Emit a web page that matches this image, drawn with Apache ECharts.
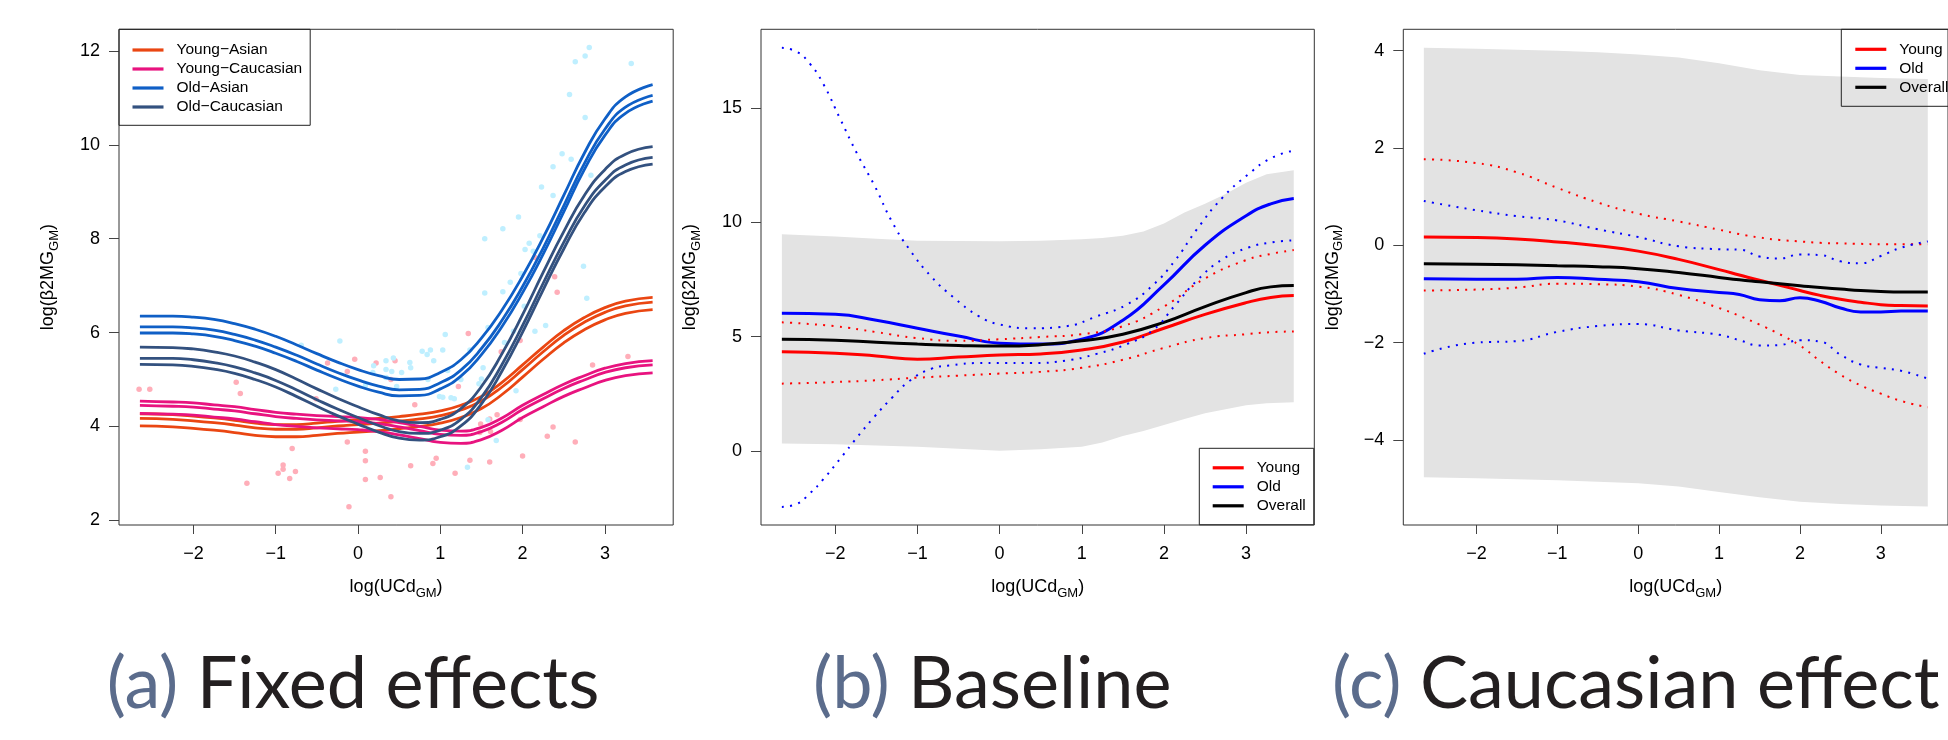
<!DOCTYPE html>
<html><head><meta charset="utf-8">
<script src="https://cdn.jsdelivr.net/npm/echarts@6/dist/echarts.min.js"></script>
<style>html,body{margin:0;padding:0;background:#fff;}#c{width:1948px;height:740px;}</style>
</head><body><div id="c"></div>
<script>
// ---------- tick labels ----------
const xTicks = [-2, -1, 0, 1, 2, 3];
const yTicksA = [2, 4, 6, 8, 10, 12];
const yTicksB = [0, 5, 10, 15];
const yTicksC = [-4, -2, 0, 2, 4];

// ---------- panel (a): fixed effects ----------
const xA = [-2.65,-2.25,-2,-1.75,-1.5,-1.25,-1,-0.75,-0.5,-0.25,0,0.25,0.5,0.75,1,1.25,1.5,1.75,2,2.25,2.5,2.75,3,3.25,3.58];
const youngAsian1 = [4.27,4.25,4.22,4.18,4.13,4.07,4.04,4.04,4.07,4.11,4.14,4.17,4.21,4.26,4.33,4.45,4.64,4.94,5.31,5.69,6.04,6.32,6.53,6.67,6.75];
const youngAsian2 = [4.17,4.15,4.12,4.08,4.03,3.97,3.94,3.94,3.97,4.01,4.04,4.07,4.11,4.16,4.23,4.35,4.54,4.84,5.21,5.59,5.94,6.22,6.43,6.57,6.65];
const youngAsian3 = [4.01,3.99,3.96,3.92,3.87,3.81,3.78,3.78,3.81,3.85,3.88,3.91,3.95,4.00,4.07,4.19,4.38,4.68,5.05,5.43,5.78,6.06,6.27,6.41,6.49];
const youngCauc1 = [4.54,4.52,4.50,4.46,4.42,4.36,4.30,4.26,4.23,4.21,4.19,4.15,4.08,4.00,3.92,3.90,3.98,4.18,4.45,4.68,4.90,5.08,5.24,5.34,5.40];
const youngCauc2 = [4.45,4.43,4.41,4.37,4.33,4.27,4.21,4.17,4.14,4.12,4.10,4.06,3.99,3.91,3.83,3.81,3.89,4.09,4.36,4.59,4.81,4.99,5.15,5.25,5.31];
const youngCauc3 = [4.28,4.26,4.24,4.20,4.16,4.10,4.04,4.00,3.97,3.95,3.93,3.89,3.82,3.74,3.66,3.64,3.72,3.92,4.19,4.42,4.64,4.82,4.98,5.08,5.14];
const oldAsian1 = [6.35,6.35,6.33,6.28,6.19,6.07,5.92,5.74,5.55,5.37,5.21,5.08,5.00,5.01,5.15,5.42,5.88,6.48,7.20,8.02,8.92,9.82,10.55,11.02,11.28];
const oldAsian2 = [6.12,6.12,6.10,6.05,5.96,5.84,5.69,5.52,5.33,5.15,4.99,4.86,4.78,4.79,4.93,5.20,5.66,6.26,6.98,7.80,8.70,9.60,10.33,10.80,11.05];
const oldAsian3 = [5.99,5.99,5.97,5.92,5.83,5.71,5.56,5.39,5.20,5.02,4.86,4.73,4.65,4.66,4.80,5.07,5.53,6.13,6.85,7.67,8.57,9.47,10.20,10.67,10.93];
const oldCauc1 = [5.69,5.68,5.65,5.59,5.50,5.37,5.21,5.01,4.80,4.60,4.42,4.25,4.12,4.08,4.15,4.38,4.85,5.55,6.38,7.28,8.15,8.92,9.47,9.80,9.96];
const oldCauc2 = [5.45,5.45,5.42,5.36,5.27,5.14,4.98,4.78,4.57,4.37,4.19,4.02,3.89,3.85,3.92,4.15,4.62,5.32,6.15,7.05,7.92,8.69,9.24,9.57,9.73];
const oldCauc3 = [5.32,5.31,5.28,5.22,5.13,5.00,4.84,4.64,4.43,4.23,4.05,3.88,3.75,3.71,3.78,4.01,4.48,5.18,6.01,6.91,7.78,8.55,9.10,9.43,9.59];

const youngPoints = [[-2.66,4.79],[-2.53,4.79],[-1.48,4.94],[-1.43,4.70],[-1.35,2.79],[-0.97,3.0],[-0.91,3.18],[-0.91,3.09],[-0.83,2.89],[-0.80,3.53],[-0.76,3.04],[-0.51,4.59],[-0.37,5.35],[-0.13,5.17],[-0.13,3.67],[-0.11,2.29],[-0.04,5.43],[0.09,3.47],[0.09,3.27],[0.09,2.87],[0.22,5.35],[0.27,2.91],[0.40,2.50],[0.40,5.0],[0.45,5.40],[0.64,3.16],[0.69,4.46],[0.91,3.21],[0.95,3.32],[0.91,3.71],[1.18,3.0],[1.22,4.85],[1.34,5.98],[1.36,3.28],[1.48,3.87],[1.49,4.05],[1.60,4.16],[1.60,3.24],[1.61,3.89],[1.69,4.25],[1.74,5.59],[1.97,5.83],[2.0,3.37],[1.97,4.15],[2.15,7.6],[2.30,3.79],[2.37,3.99],[2.39,7.19],[2.42,6.86],[2.64,3.67],[2.85,5.31],[3.28,5.49]];
const oldPoints = [[-0.69,5.73],[-0.22,5.82],[-0.27,4.79],[0.09,4.87],[0.18,5.15],[0.19,5.29],[0.34,5.40],[0.34,5.21],[0.34,5.04],[0.41,5.17],[0.43,5.46],[0.47,4.85],[0.53,5.15],[0.54,3.81],[0.63,5.36],[0.64,5.25],[0.78,5.6],[0.84,5.53],[0.88,5.63],[0.92,5.40],[0.85,5.0],[0.99,4.64],[1.03,4.62],[1.03,5.63],[1.06,5.96],[1.13,4.61],[1.09,5.19],[1.17,4.59],[1.25,5.0],[1.33,3.13],[1.36,5.63],[1.47,4.91],[1.50,5.01],[1.52,5.25],[1.54,8.0],[1.54,6.84],[1.58,6.11],[1.58,4.14],[1.68,3.70],[1.76,8.21],[1.76,6.87],[1.78,5.79],[1.85,7.07],[1.89,6.03],[1.92,4.76],[1.95,8.46],[1.98,7.26],[2.02,6.56],[2.03,7.77],[2.08,7.90],[2.13,7.73],[2.15,6.03],[2.21,8.06],[2.23,9.10],[2.28,6.15],[2.37,9.53],[2.37,8.92],[2.48,9.81],[2.57,11.07],[2.59,9.69],[2.64,11.77],[2.74,7.41],[2.76,11.89],[2.76,10.58],[2.78,6.73],[2.81,12.07],[2.83,9.35],[3.32,11.73]];

// ---------- panel (b): baseline ----------
const xB = [-2.65,-2,-1.5,-1,-0.5,0,0.5,1,1.5,2,2.5,3,3.3,3.58];
const youngB = [4.34,4.28,4.16,4.02,4.11,4.20,4.25,4.42,4.77,5.37,5.98,6.49,6.72,6.80];
const oldB = [6.03,5.98,5.72,5.37,5.03,4.72,4.68,4.89,5.72,7.27,9.00,10.29,10.81,11.04];
const overallB = [4.89,4.85,4.76,4.68,4.62,4.59,4.65,4.82,5.11,5.63,6.32,6.93,7.18,7.24];
const youngUpB = [5.63,5.46,5.20,4.94,4.82,4.89,4.99,5.11,5.46,6.32,7.55,8.35,8.62,8.79];
const youngLoB = [2.95,3.02,3.10,3.21,3.30,3.39,3.47,3.64,3.99,4.51,4.94,5.11,5.20,5.23];
const xBd = [-2.65,-2.47,-2.31,-2.15,-1.94,-1.73,-1.52,-1.31,-1.1,-0.83,-0.57,-0.25,0,0.39,0.81,1.18,1.55,1.87,2.13,2.4,2.71,3.03,3.3,3.58];
const oldUpB = [17.63,17.46,16.94,16.08,14.52,12.97,11.59,10.03,8.83,7.62,6.75,5.89,5.54,5.37,5.46,5.89,6.41,7.27,8.31,9.69,11.07,12.11,12.80,13.14];
const oldLoB = [-2.44,-2.31,-1.85,-1.25,-0.33,0.62,1.52,2.33,3.06,3.60,3.76,3.85,3.85,3.85,3.96,4.25,4.68,5.30,6.35,7.45,8.38,8.90,9.12,9.21];
const xBandB = [-2.65,-2,-1.5,-1,-0.5,0,0.5,1,1.25,1.5,1.75,2,2.25,2.5,2.75,3,3.25,3.58];
const bandUpB = [9.48,9.38,9.28,9.20,9.18,9.17,9.20,9.26,9.32,9.42,9.60,9.95,10.43,10.81,11.24,11.73,12.10,12.28];
const bandLoB = [0.33,0.30,0.24,0.19,0.10,0.02,0.08,0.19,0.38,0.66,0.88,1.14,1.40,1.66,1.83,2.00,2.09,2.14];

// ---------- panel (c): Caucasian effect ----------
const xC = [-2.65,-2,-1.5,-1,-0.5,0,0.5,1,1.25,1.5,1.75,2,2.25,2.5,2.75,3,3.25,3.58];
const youngC = [0.17,0.16,0.13,0.07,-0.01,-0.12,-0.29,-0.50,-0.61,-0.72,-0.82,-0.93,-1.03,-1.11,-1.17,-1.22,-1.24,-1.25];
const overallC = [-0.38,-0.39,-0.40,-0.42,-0.44,-0.48,-0.56,-0.66,-0.71,-0.75,-0.79,-0.83,-0.87,-0.90,-0.93,-0.95,-0.96,-0.96];
const oldC = [-0.69,-0.70,-0.70,-0.66,-0.70,-0.75,-0.89,-0.97,-1.01,-1.12,-1.14,-1.08,-1.15,-1.29,-1.37,-1.37,-1.35,-1.35];
const youngUpC = [1.77,1.69,1.50,1.18,0.88,0.65,0.49,0.32,0.23,0.16,0.11,0.08,0.05,0.04,0.03,0.02,0.02,0.02];
const youngLoC = [-0.93,-0.91,-0.87,-0.79,-0.80,-0.85,-1.02,-1.29,-1.45,-1.63,-1.83,-2.06,-2.38,-2.66,-2.88,-3.05,-3.20,-3.33];
const oldUpC = [0.91,0.72,0.60,0.51,0.33,0.17,-0.02,-0.08,-0.09,-0.23,-0.27,-0.19,-0.20,-0.33,-0.37,-0.22,-0.05,0.08];
const oldLoC = [-2.23,-2.00,-1.97,-1.78,-1.66,-1.62,-1.75,-1.84,-1.95,-2.06,-2.05,-1.95,-1.98,-2.25,-2.45,-2.52,-2.58,-2.74];
const xBandC = [-2.65,-2,-1.5,-1,-0.5,0,0.5,1,1.5,2,2.5,3,3.58];
const bandUpC = [4.06,4.04,4.02,4.00,3.97,3.92,3.86,3.74,3.60,3.50,3.47,3.44,3.42];
const bandLoC = [-4.77,-4.79,-4.81,-4.83,-4.86,-4.89,-4.96,-5.07,-5.18,-5.27,-5.32,-5.35,-5.37];

// ---------- styling ----------
const FONT = "'Liberation Sans', Arial, Helvetica, sans-serif";
const TFONT = "Lato, 'Open Sans', sans-serif";
const C = {
  ya: '#EA4612', yc: '#E8137F', oa: '#0F5FC6', oc: '#33517F',
  yPt: '#FFAEB9', oPt: '#BFEFFF', band: '#E3E3E3',
  red: '#FF0000', blue: '#0000FF', black: '#000000'
};
const zip = (xs, ys) => xs.map((x, i) => [x, ys[i]]);
const fmt = v => (v < 0 ? '\u2212' + Math.abs(v) : String(v));

const grids = [
  { left: 119, top: 29.3, width: 554.2, height: 495.7 },
  { left: 761, top: 29.3, width: 553.3, height: 495.7 },
  { left: 1403.3, top: 29.3, width: 553.5, height: 495.7 }
].map(g => Object.assign(g, { show: true, borderColor: '#333', borderWidth: 1, backgroundColor: 'transparent', containLabel: false }));

const nameRich = {
  n: { fontSize: 18, fontFamily: FONT, color: '#000' },
  s: { fontSize: 13, fontFamily: FONT, color: '#000', padding: [12, 0, 0, 0] }
};

function xAxis(i) {
  return {
    type: 'value', gridIndex: i, min: -2.904, max: 3.83,
    axisLine: { show: false, onZero: false }, splitLine: { show: false },
    axisTick: { show: true, length: 9, lineStyle: { color: '#444', width: 1 }, customValues: xTicks },
    axisLabel: { customValues: xTicks, formatter: fmt, fontSize: 18, fontFamily: FONT, color: '#000', margin: 20 },
    name: '{n|log(UCd}{s|GM}{n|)}', nameLocation: 'middle', nameGap: 50,
    nameTextStyle: { fontSize: 18, fontFamily: FONT, color: '#000', rich: nameRich }
  };
}
function yAxis(i, ticks, min, max) {
  return {
    type: 'value', gridIndex: i, min: min, max: max,
    axisLine: { show: false, onZero: false }, splitLine: { show: false },
    axisTick: { show: true, length: 10, lineStyle: { color: '#444', width: 1 }, customValues: ticks },
    axisLabel: { customValues: ticks, formatter: fmt, fontSize: 18, fontFamily: FONT, color: '#000', margin: 19 },
    name: '{n|log(\u03B22MG}{s|GM}{n|)}', nameLocation: 'middle', nameGap: 58, nameRotate: 90,
    nameTextStyle: { fontSize: 18, fontFamily: FONT, color: '#000', rich: nameRich }
  };
}

function line(name, gi, xs, ys, color, width, dotted) {
  return {
    type: 'line', name: name, xAxisIndex: gi, yAxisIndex: gi, data: zip(xs, ys),
    smooth: 0.5, showSymbol: false, symbol: 'none', silent: true, clip: true,
    lineStyle: { color: color, width: width, type: dotted ? [2, 6.3] : 'solid', cap: 'butt' },
    itemStyle: { color: color }, z: 3
  };
}
// shaded band drawn as one polygon through the axis scales (api.coord)
function band(gi, xs, lo, up) {
  return {
    type: 'custom', xAxisIndex: gi, yAxisIndex: gi, silent: true, z: 1, clip: true,
    data: [[xs[0], lo[0]]],
    renderItem: function (params, api) {
      const top = xs.map((x, i) => api.coord([x, up[i]]));
      const bot = xs.map((x, i) => api.coord([x, lo[i]])).reverse();
      return { type: 'polygon', shape: { points: top.concat(bot) }, style: { fill: C.band, stroke: null } };
    }
  };
}
function scatter(name, pts, color) {
  return { type: 'scatter', name: name, xAxisIndex: 0, yAxisIndex: 0, data: pts, symbolSize: 5.5,
    itemStyle: { color: color, opacity: 1 }, silent: true, z: 2 };
}

const NYA = 'Young\u2212Asian', NYC = 'Young\u2212Caucasian', NOA = 'Old\u2212Asian', NOC = 'Old\u2212Caucasian';

const series = [
  scatter('young pts', youngPoints, C.yPt),
  scatter('old pts', oldPoints, C.oPt),
  line(NYA, 0, xA, youngAsian1, C.ya, 2.8), line(NYA, 0, xA, youngAsian2, C.ya, 2.8), line(NYA, 0, xA, youngAsian3, C.ya, 2.8),
  line(NYC, 0, xA, youngCauc1, C.yc, 2.8), line(NYC, 0, xA, youngCauc2, C.yc, 2.8), line(NYC, 0, xA, youngCauc3, C.yc, 2.8),
  line(NOA, 0, xA, oldAsian1, C.oa, 2.8), line(NOA, 0, xA, oldAsian2, C.oa, 2.8), line(NOA, 0, xA, oldAsian3, C.oa, 2.8),
  line(NOC, 0, xA, oldCauc1, C.oc, 2.8), line(NOC, 0, xA, oldCauc2, C.oc, 2.8), line(NOC, 0, xA, oldCauc3, C.oc, 2.8),
  band(1, xBandB, bandLoB, bandUpB),
  line('Young', 1, xB, youngB, C.red, 3),
  line('Old', 1, xB, oldB, C.blue, 3),
  line('Overall', 1, xB, overallB, C.black, 3),
  line('young up b', 1, xB, youngUpB, C.red, 2, true),
  line('young lo b', 1, xB, youngLoB, C.red, 2, true),
  line('old up b', 1, xBd, oldUpB, C.blue, 2, true),
  line('old lo b', 1, xBd, oldLoB, C.blue, 2, true),
  band(2, xBandC, bandLoC, bandUpC),
  line('Young', 2, xC, youngC, C.red, 3),
  line('Old', 2, xC, oldC, C.blue, 3),
  line('Overall', 2, xC, overallC, C.black, 3),
  line('young up c', 2, xC, youngUpC, C.red, 2, true),
  line('young lo c', 2, xC, youngLoC, C.red, 2, true),
  line('old up c', 2, xC, oldUpC, C.blue, 2, true),
  line('old lo c', 2, xC, oldLoC, C.blue, 2, true)
];

function legend(data, left, top, pad) {
  return {
    data: data, orient: 'vertical', left: left, top: top, padding: pad,
    itemWidth: 31, itemHeight: 3.2, itemGap: 0, icon: 'rect', selectedMode: false,
    backgroundColor: 'transparent', borderColor: '#222', borderWidth: 1, borderRadius: 0,
    textStyle: { fontSize: 15.5, fontFamily: FONT, color: '#000', lineHeight: 19, padding: [0, 0, 0, 8] },
    z: 10
  };
}

const titleRich = {
  p: { fontSize: 72, fontFamily: TFONT, fontWeight: 'normal', color: '#5B6C8C', lineHeight: 80 },
  t: { fontSize: 72, fontFamily: TFONT, fontWeight: 'normal', color: '#231F20', lineHeight: 80 }
};
function title(text, left) {
  return { text: text, left: left, top: 645, padding: 0,
    textStyle: { rich: titleRich, fontSize: 72, fontWeight: 'normal', fontFamily: TFONT } };
}

const chart = echarts.init(document.getElementById('c'), null, { renderer: 'canvas' });
chart.setOption({
  animation: false,
  backgroundColor: '#fff',
  title: [
    title('{p|(a)} {t|Fixed effects}', 106.7),
    title('{p|(b)} {t|Baseline}', 813),
    title('{p|(c)} {t|Caucasian effect}', 1332)
  ],
  grid: grids,
  xAxis: [xAxis(0), xAxis(1), xAxis(2)],
  yAxis: [yAxis(0, yTicksA, 1.9, 12.46), yAxis(1, yTicksB, -3.23, 18.44), yAxis(2, yTicksC, -5.75, 4.44)],
  legend: [
    legend([NYA, NYC, NOA, NOC], 119, 29.3, [11.2, 8, 8.8, 13.5]),
    legend(['Young', 'Old', 'Overall'], 1199.3, 448.3, [10, 8, 9.5, 13.4]),
    legend(['Young', 'Old', 'Overall'], 1841.3, 29.3, [10.5, 8, 9.5, 14])
  ],
  series: series
});
</script></body></html>
